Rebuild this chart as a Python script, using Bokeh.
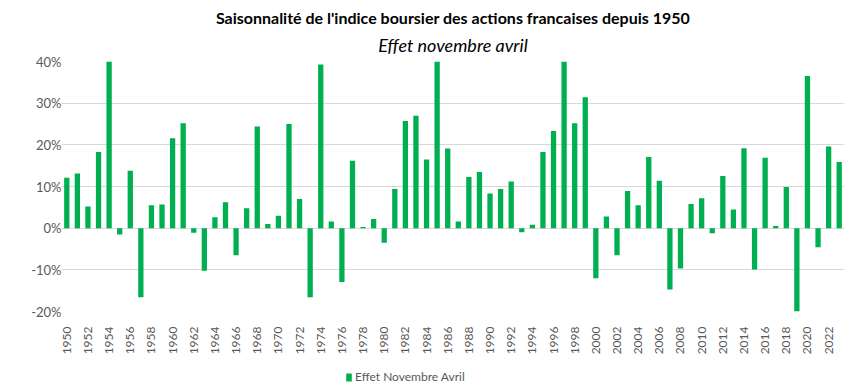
from bokeh.plotting import figure
from bokeh.layouts import column
from bokeh.models import (ColumnDataSource, FixedTicker, PrintfTickFormatter, Range1d,
                          Legend, LegendItem, Title)
from bokeh.embed import file_html
from bokeh.resources import INLINE
import math

years = list(range(1950, 2024))
values = [12.1, 13.1, 5.2, 18.3, 40.0, -1.5, 13.8, -16.6, 5.5, 5.7,
          21.6, 25.2, -1.1, -10.2, 2.6, 6.2, -6.5, 4.8, 24.4, 1.0,
          3.0, 25.0, 7.0, -16.6, 39.3, 1.6, -12.9, 16.2, 0.3, 2.2,
          -3.5, 9.4, 25.7, 27.0, 16.5, 40.0, 19.1, 1.6, 12.3, 13.5,
          8.3, 9.4, 11.2, -1.0, 0.8, 18.3, 23.3, 40.0, 25.2, 31.4,
          -12.0, 2.8, -6.5, 8.9, 5.5, 17.1, 11.4, -14.7, -9.7, 5.8,
          7.2, -1.2, 12.5, 4.5, 19.2, -9.9, 16.9, 0.5, 9.9, -20.0,
          36.5, -4.6, 19.6, 15.9]
x_tick_years = years[::2]
y_ticks = [-20, -10, 0, 10, 20, 30, 40]
title_text = "Saisonnalité de l'indice boursier des actions francaises depuis 1950"
subtitle_text = "Effet novembre avril"
legend_label = "Effet Novembre Avril"

FONT = "Lato"
GREEN = "#00b050"
GREY_TXT = "#595959"

src = ColumnDataSource(dict(year=years, val=values))

p = figure(frame_width=783, frame_height=250, output_backend="svg", toolbar_location=None,
           x_range=Range1d(years[0] - 0.5, years[-1] + 0.5),
           y_range=Range1d(-20, 40),
           min_border_left=61, min_border_right=15, min_border_top=0, min_border_bottom=0)
p.margin = (5, 0, 0, 0)

p.title.text = title_text
p.title.align = "center"
p.title.text_font = FONT
p.title.text_font_size = "16px"
p.title.text_font_style = "bold"
p.title.text_color = "#000000"
p.title.standoff = 0
p.add_layout(Title(text=subtitle_text, align="center", text_font=FONT, text_font_size="18px",
                   text_font_style="italic", text_color="#000000", standoff=11), "above")

r = p.vbar(x="year", top="val", bottom=0, width=0.5, source=src,
           fill_color=GREEN, line_color=None)

p.outline_line_color = None
p.xgrid.grid_line_color = None
p.ygrid.grid_line_color = "#d9d9d9"
p.ygrid.ticker = FixedTicker(ticks=y_ticks)

p.yaxis.ticker = FixedTicker(ticks=y_ticks)
p.yaxis.formatter = PrintfTickFormatter(format="%d%%")
p.yaxis.axis_line_color = None
p.yaxis.major_tick_line_color = None
p.yaxis.major_tick_out = 0
p.yaxis.minor_tick_line_color = None
p.yaxis.major_label_standoff = 0
p.yaxis.major_label_text_font = FONT
p.yaxis.major_label_text_font_size = "13px"
p.yaxis.major_label_text_color = GREY_TXT

p.xaxis.ticker = FixedTicker(ticks=x_tick_years)
p.xaxis.major_label_orientation = math.pi / 2
p.xaxis.axis_line_color = None
p.xaxis.major_tick_line_color = None
p.xaxis.major_tick_out = 0
p.xaxis.minor_tick_line_color = None
p.xaxis.major_label_standoff = 15
p.xaxis.major_label_text_font = FONT
p.xaxis.major_label_text_font_size = "12px"
p.xaxis.major_label_text_color = GREY_TXT

p.background_fill_color = "white"
p.border_fill_color = "white"

# legend strip below the chart
q = figure(width=852, height=27, output_backend="svg", toolbar_location=None,
           min_border=0, x_range=Range1d(0, 1), y_range=Range1d(0, 1),
           x_axis_location=None, y_axis_location=None)
q.xgrid.grid_line_color = None
q.ygrid.grid_line_color = None
q.outline_line_color = None
q.background_fill_color = "white"
q.border_fill_color = "white"
lr = q.vbar(x=[0.5], top=[0], bottom=0, width=0.01, fill_color=GREEN, line_color=None)
legend = Legend(items=[LegendItem(label=legend_label, renderers=[lr])],
                orientation="horizontal", location=(284, 0),
                border_line_color=None, background_fill_alpha=0,
                label_text_font=FONT, label_text_font_size="12px", label_text_color=GREY_TXT,
                glyph_width=7, glyph_height=10, label_standoff=3, margin=0, padding=2)
q.add_layout(legend, "center")

layout = column(p, q, spacing=0)
open("out.html", "w").write(file_html(layout, INLINE))
